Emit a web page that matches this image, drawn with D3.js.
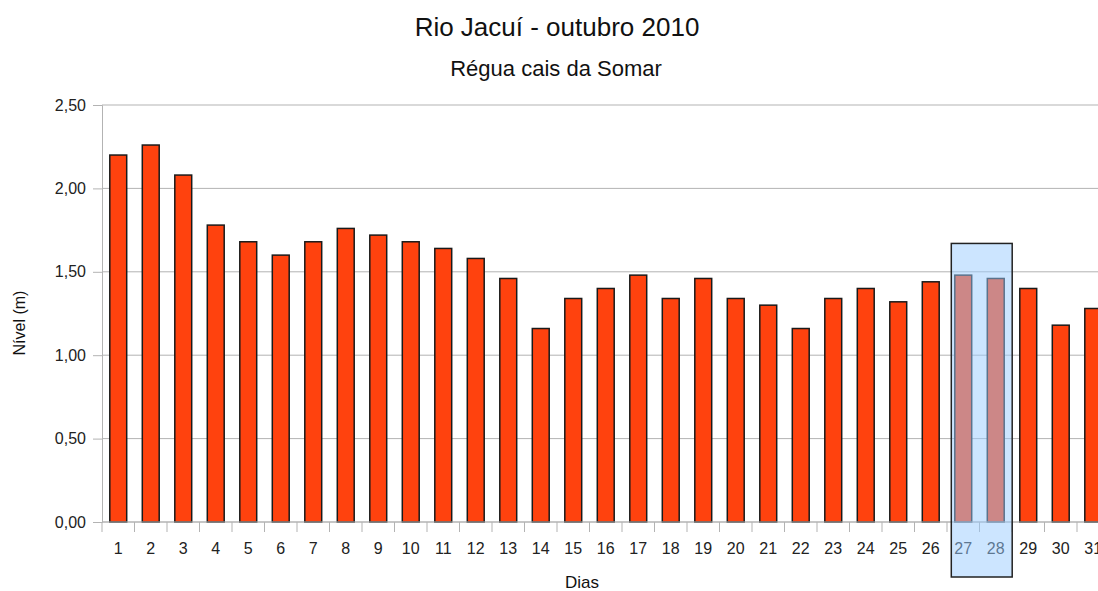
<!DOCTYPE html>
<html>
<head>
<meta charset="utf-8">
<script src="https://cdn.jsdelivr.net/npm/d3@7"></script>
<style>
  body { margin: 0; background: #fff; }
  svg { display: block; font-family: "Liberation Sans", Arial, sans-serif; }
</style>
</head>
<body>
<svg></svg>
<script>
const days = d3.range(1, 32);
const niveis = [2.20, 2.26, 2.08, 1.78, 1.68, 1.60, 1.68, 1.76, 1.72, 1.68,
                1.64, 1.58, 1.46, 1.16, 1.34, 1.40, 1.48, 1.34, 1.46, 1.34,
                1.30, 1.16, 1.34, 1.40, 1.32, 1.44, 1.48, 1.46, 1.40, 1.18, 1.28];
const yTicks = [0, 0.5, 1, 1.5, 2, 2.5];
const highlighted = [27, 28];

const data = days.map((d, i) => ({ day: d, value: niveis[i] }));

const width = 1098;
const height = 591;
const plotLeft = 102;
const bandW = 32.5;
const plotTop = 105;
const plotBottom = 522;

const svg = d3.select('svg')
    .attr('width', width)
    .attr('height', height);

const x = d3.scaleBand()
    .domain(days)
    .range([plotLeft, plotLeft + bandW * days.length])
    .paddingInner(0.48)
    .paddingOuter(0.24);

// band boundaries for tick marks
const step = x.step();

const y = d3.scaleLinear()
    .domain([0, 2.5])
    .range([plotBottom, plotTop]);

const fmt = v => d3.format('.2f')(v).replace('.', ',');

// gridlines
svg.append('g')
    .selectAll('line')
    .data(yTicks)
    .enter()
    .append('line')
    .attr('x1', plotLeft)
    .attr('x2', width)
    .attr('y1', d => y(d))
    .attr('y2', d => y(d))
    .attr('stroke', '#b3b3b3')
    .attr('stroke-width', 1);

// y axis
const yAxis = d3.axisLeft(y)
    .tickValues(yTicks)
    .tickFormat(fmt)
    .tickSize(9)
    .tickPadding(7);

const gy = svg.append('g')
    .attr('transform', 'translate(' + plotLeft + ',0)')
    .call(yAxis);
gy.select('.domain').attr('stroke', '#b3b3b3');
gy.selectAll('.tick line').attr('stroke', '#b3b3b3');
gy.selectAll('.tick text')
    .attr('fill', '#222')
    .style('font-size', '16px')
    .style('font-family', '"Liberation Sans", Arial, sans-serif');

// bars
svg.append('g')
    .selectAll('rect')
    .data(data)
    .enter()
    .append('rect')
    .attr('x', d => x(d.day))
    .attr('y', d => y(d.value))
    .attr('width', x.bandwidth())
    .attr('height', d => y(0) - y(d.value))
    .attr('fill', '#ff420e')
    .attr('stroke', '#1a1a1a')
    .attr('stroke-width', 1.5);

// x axis line and ticks at band boundaries
svg.append('line')
    .attr('x1', plotLeft)
    .attr('x2', width)
    .attr('y1', y(0))
    .attr('y2', y(0))
    .attr('stroke', '#b3b3b3');

svg.append('g')
    .selectAll('line')
    .data(d3.range(0, days.length + 1))
    .enter()
    .append('line')
    .attr('x1', i => plotLeft + i * step)
    .attr('x2', i => plotLeft + i * step)
    .attr('y1', y(0))
    .attr('y2', y(0) + 10)
    .attr('stroke', '#b3b3b3');

svg.append('g')
    .selectAll('text')
    .data(days)
    .enter()
    .append('text')
    .attr('x', d => x(d) + x.bandwidth() / 2)
    .attr('y', 554)
    .attr('text-anchor', 'middle')
    .style('font-size', '16px')
    .attr('fill', '#222')
    .text(d => d);

// highlight box over 27-28
const boxX = x(highlighted[0]) - 3.5;
svg.append('rect')
    .attr('x', boxX)
    .attr('y', y(1.67))
    .attr('width', x(highlighted[1]) + x.bandwidth() + 8 - boxX)
    .attr('height', 577 - y(1.67))
    .attr('fill', 'rgba(153,204,255,0.5)')
    .attr('stroke', '#222')
    .attr('stroke-width', 1.5);

// titles
svg.append('text')
    .attr('x', 557)
    .attr('y', 36)
    .attr('text-anchor', 'middle')
    .style('font-size', '26px')
    .attr('fill', '#111')
    .text('Rio Jacuí - outubro 2010');

svg.append('text')
    .attr('x', 556)
    .attr('y', 76)
    .attr('text-anchor', 'middle')
    .style('font-size', '22px')
    .attr('fill', '#111')
    .text('Régua cais da Somar');

svg.append('text')
    .attr('transform', 'translate(25,323) rotate(-90)')
    .attr('text-anchor', 'middle')
    .style('font-size', '16px')
    .attr('fill', '#111')
    .text('Nível (m)');

svg.append('text')
    .attr('x', 582)
    .attr('y', 588)
    .attr('text-anchor', 'middle')
    .style('font-size', '17px')
    .attr('fill', '#111')
    .text('Dias');
</script>
</body>
</html>
